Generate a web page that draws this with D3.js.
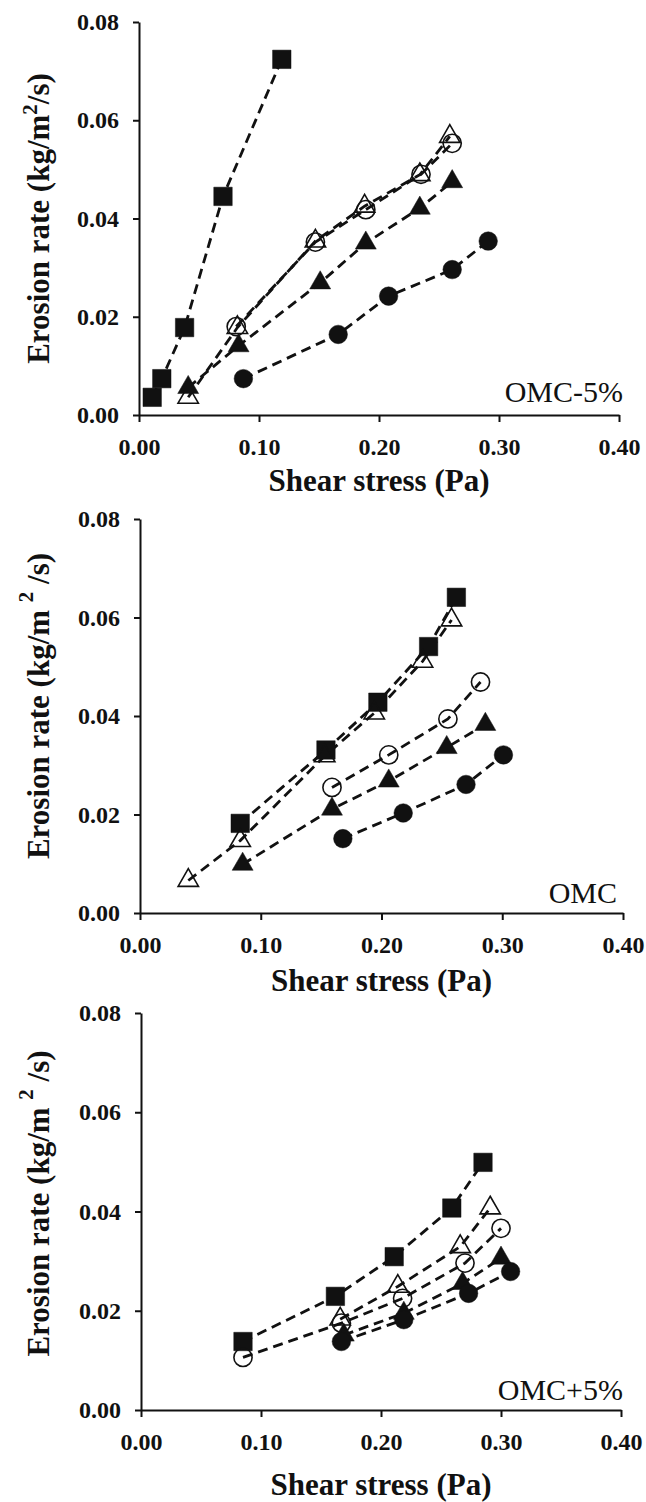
<!DOCTYPE html>
<html>
<head>
<meta charset="utf-8">
<script src="https://cdn.jsdelivr.net/npm/d3@7"></script>
<style>
  html, body { margin: 0; padding: 0; background: #fff; }
  svg { display: block; }
</style>
</head>
<body>
<svg id="chart"></svg>
<script>
// ── Data ─────────────────────────────────────────────────────────────
const xTicks = [0, 0.1, 0.2, 0.3, 0.4];
const yTicks = [0, 0.02, 0.04, 0.06, 0.08];
const panelLabels = ["OMC-5%", "OMC", "OMC+5%"];
const shapes = ["square", "openTriangle", "openCircle", "filledTriangle", "filledCircle"];

// OMC-5%  [shear stress (Pa), erosion rate (kg/m2/s)]
const dryBoxes    = [[0.011, 0.0036], [0.019, 0.0074], [0.038, 0.0178], [0.070, 0.0445], [0.119, 0.0724]];
const dryOpenTri  = [[0.041, 0.0036], [0.082, 0.0178], [0.147, 0.0354], [0.188, 0.0425], [0.234, 0.0489], [0.259, 0.0567]];
const dryOpenCirc = [[0.081, 0.0180], [0.147, 0.0352], [0.189, 0.0418], [0.235, 0.0490], [0.261, 0.0553]];
const dryTri      = [[0.041, 0.0056], [0.083, 0.0141], [0.151, 0.0269], [0.189, 0.0350], [0.234, 0.0421], [0.261, 0.0475]];
const dryCirc     = [[0.087, 0.0074], [0.166, 0.0164], [0.208, 0.0242], [0.261, 0.0296], [0.291, 0.0354]];

// OMC
const optBoxes    = [[0.083, 0.0182], [0.154, 0.0331], [0.197, 0.0428], [0.239, 0.0541], [0.262, 0.0641]];
const optOpenTri  = [[0.040, 0.0066], [0.083, 0.0147], [0.153, 0.0319], [0.194, 0.0406], [0.234, 0.0511], [0.258, 0.0595]];
const optOpenCirc = [[0.159, 0.0255], [0.206, 0.0321], [0.255, 0.0394], [0.282, 0.0469]];
const optTri      = [[0.085, 0.0099], [0.159, 0.0211], [0.206, 0.0268], [0.254, 0.0336], [0.286, 0.0383]];
const optCirc     = [[0.168, 0.0151], [0.218, 0.0203], [0.270, 0.0261], [0.301, 0.0321]];

// OMC+5%
const wetBoxes    = [[0.085, 0.0138], [0.162, 0.0229], [0.211, 0.0309], [0.259, 0.0407], [0.285, 0.0499]];
const wetOpenTri  = [[0.166, 0.0183], [0.214, 0.0249], [0.266, 0.0329], [0.291, 0.0407]];
const wetOpenCirc = [[0.085, 0.0106], [0.167, 0.0175], [0.218, 0.0225], [0.270, 0.0296], [0.300, 0.0366]];
const wetTri      = [[0.169, 0.0151], [0.219, 0.0195], [0.268, 0.0255], [0.300, 0.0306]];
const wetCirc     = [[0.167, 0.0138], [0.219, 0.0182], [0.273, 0.0235], [0.308, 0.0279]];

const panelSeries = [
    [dryBoxes, dryOpenTri, dryOpenCirc, dryTri, dryCirc],
    [optBoxes, optOpenTri, optOpenCirc, optTri, optCirc],
    [wetBoxes, wetOpenTri, wetOpenCirc, wetTri, wetCirc]
];

// ── Layout ───────────────────────────────────────────────────────────
const W = 646, H = 1502;
const FONT = "'Liberation Serif', 'Times New Roman', Times, serif";
const boxes = [
    { left: 139, right: 619, top: 22,   bottom: 415,  xTitleY: 491,  labelY: 402,  labelX: 623, yTitleShift: 0,   supGap: false },
    { left: 140, right: 623, top: 519,  bottom: 913,  xTitleY: 991,  labelY: 903,  labelX: 617, yTitleShift: -10, supGap: true },
    { left: 141, right: 621, top: 1013, bottom: 1410, xTitleY: 1495, labelY: 1400, labelX: 623, yTitleShift: -8,  supGap: true }
];

const svg = d3.select("#chart").attr("width", W).attr("height", H);

const symbolFor = {
    square:         { type: d3.symbolSquare,   size: 340, filled: true },
    openTriangle:   { type: d3.symbolTriangle, size: 180, filled: false },
    openCircle:     { type: d3.symbolCircle,   size: 260, filled: false },
    filledTriangle: { type: d3.symbolTriangle, size: 190, filled: true },
    filledCircle:   { type: d3.symbolCircle,   size: 270, filled: true }
};

boxes.forEach((b, i) => {
    const x = d3.scaleLinear().domain([0, 0.4]).range([b.left, b.right]);
    const y = d3.scaleLinear().domain([0, 0.08]).range([b.bottom, b.top]);
    const g = svg.append("g");

    // axes
    const xAxis = g.append("g")
        .attr("transform", `translate(0,${b.bottom})`)
        .call(d3.axisBottom(x).tickValues(xTicks).tickFormat(d3.format(".2f"))
            .tickSize(7).tickSizeOuter(0).tickPadding(16));
    const yAxis = g.append("g")
        .attr("transform", `translate(${b.left},0)`)
        .call(d3.axisLeft(y).tickValues(yTicks).tickFormat(d3.format(".2f"))
            .tickSize(6).tickSizeOuter(0).tickPadding(14));
    [xAxis, yAxis].forEach(a => {
        a.selectAll("path, line").attr("stroke", "#111").attr("stroke-width", 2);
        a.selectAll("text")
            .attr("font-family", FONT).attr("font-weight", "bold")
            .attr("font-size", 24).attr("fill", "#111");
    });

    // dashed lines, then markers
    const line = d3.line().x(d => x(d[0])).y(d => y(d[1]));
    panelSeries[i].forEach(s => {
        g.append("path")
            .attr("d", line(s))
            .attr("fill", "none")
            .attr("stroke", "#111")
            .attr("stroke-width", 2.8)
            .attr("stroke-dasharray", "10,6");
    });
    panelSeries[i].forEach((s, k) => {
        const sym = symbolFor[shapes[k]];
        g.selectAll(null).data(s).enter().append("path")
            .attr("transform", d => `translate(${x(d[0])},${y(d[1])})`)
            .attr("d", d3.symbol().type(sym.type).size(sym.size))
            .attr("fill", sym.filled ? "#111" : "none")
            .attr("stroke", "#111")
            .attr("stroke-width", sym.filled ? 0.5 : 1.6);
    });

    // panel label
    g.append("text")
        .attr("x", b.labelX).attr("y", b.labelY)
        .attr("text-anchor", "end")
        .attr("font-family", FONT).attr("font-size", 30).attr("fill", "#111")
        .text(panelLabels[i]);

    // x title
    g.append("text")
        .attr("x", (b.left + b.right) / 2).attr("y", b.xTitleY)
        .attr("text-anchor", "middle")
        .attr("font-family", FONT).attr("font-weight", "bold")
        .attr("font-size", 31).attr("fill", "#111")
        .text("Shear stress (Pa)");

    // y title
    const yt = g.append("text")
        .attr("transform", `translate(49,${(b.top + b.bottom) / 2 + b.yTitleShift}) rotate(-90)`)
        .attr("text-anchor", "middle")
        .attr("font-family", FONT).attr("font-weight", "bold")
        .attr("font-size", 31).attr("fill", "#111");
    yt.append("tspan").text(b.supGap ? "Erosion rate (kg/m\u00a0" : "Erosion rate (kg/m");
    yt.append("tspan").attr("font-size", 21).attr("dy", b.supGap ? "-0.75em" : "-0.55em").text("2");
    yt.append("tspan").attr("dy", b.supGap ? "0.5em" : "0.37em").text(b.supGap ? "\u00a0/s)" : "/s)");
});
</script>
</body>
</html>
